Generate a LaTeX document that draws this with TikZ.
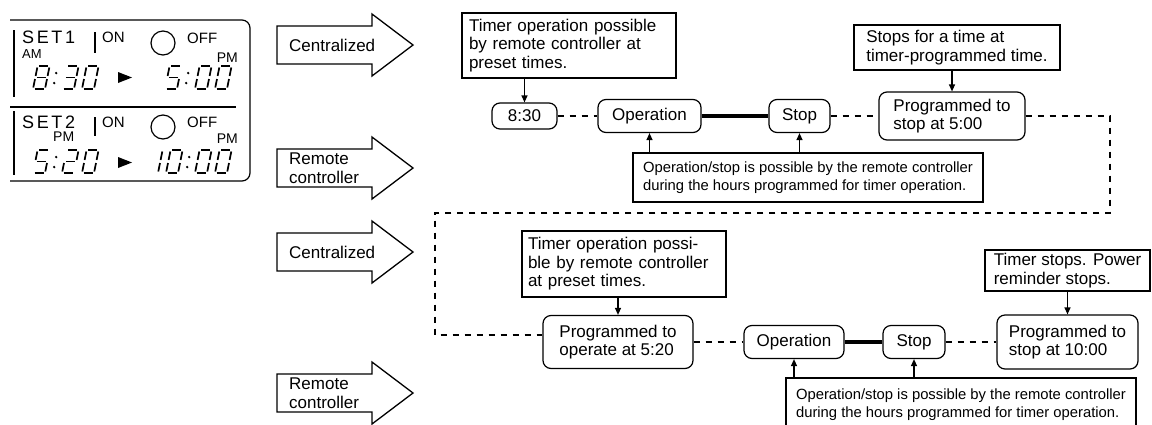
\documentclass[tikz,border=0pt]{standalone}
\usepackage{fontspec}
\setmainfont{Liberation Sans}
\usetikzlibrary{arrows.meta,calc}

\def\dZero{1.5/23/10.5/23,12/21.5/12/13,12/10/12/1.5,1.5/0/10.5/0,0/10/0/1.5,0/21.5/0/13}
\def\dOne{12/21.5/12/13,12/10/12/1.5}
\def\dTwo{1.5/23/10.5/23,12/21.5/12/13,1.5/11.5/10.5/11.5,0/10/0/1.5,1.5/0/10.5/0}
\def\dThree{1.5/23/10.5/23,12/21.5/12/13,1.5/11.5/10.5/11.5,12/10/12/1.5,1.5/0/10.5/0}
\def\dFive{1.5/23/10.5/23,0/21.5/0/13,1.5/11.5/10.5/11.5,12/10/12/1.5,1.5/0/10.5/0}
\def\dEight{1.5/23/10.5/23,12/21.5/12/13,12/10/12/1.5,1.5/0/10.5/0,0/10/0/1.5,0/21.5/0/13,1.5/11.5/10.5/11.5}

\newcommand{\lcddigit}[3]{%
  \foreach \ax/\ay/\bx/\by in #3 {\draw[lcdseg] ({#1+\ax+0.2*\ay},{#2-\ay}) -- ({#1+\bx+0.2*\by},{#2-\by});}}
\newcommand{\lcdcolon}[2]{%
  \fill ({#1+1.2},{#2-6}) circle (1.3); \fill ({#1+3.2},{#2-16}) circle (1.3);}
\newcommand{\blockarrow}[1]{%
  \draw[blk] (277,#1-19) -- (372,#1-19) -- (372,#1-31) -- (413,#1) -- (372,#1+31) -- (372,#1+19) -- (277,#1+19) -- cycle;}

\tikzset{
  base/.style={font=\fontsize{17}{18.5}\selectfont},
  rbox/.style={draw, line width=1.2pt, rounded corners=8pt, align=left, inner sep=0pt, base},
  sqbox/.style={draw, line width=1.2pt, align=left, inner sep=0pt, base},
  note/.style={sqbox, font=\fontsize{14.8}{18.5}\selectfont},
  dline/.style={line width=1.3pt, dash pattern=on 6pt off 6pt},
  heavy/.style={line width=4pt},
  arr/.style={line width=1.2pt, -{Triangle[length=7pt,width=6pt]}},
  blk/.style={draw, line width=1.3pt, line join=miter},
  lcdseg/.style={line width=1.7pt},
  lcdline/.style={line width=1.2pt},
  lbl/.style={inner sep=0pt, base, align=left, anchor=west},
}

\begin{document}
\begin{tikzpicture}[x=1pt,y=-1pt]
\fill[white] (0,0) rectangle (1152,424);
\useasboundingbox (0,0) rectangle (1152,424);

% ---------- LCD panel ----------
\draw[lcdline, rounded corners=8pt] (10,20) -- (250,20) -- (250,181) -- (10,181);
\draw[lcdline] (10,107) -- (236,107);
\draw[lcdline] (14,30) -- (14,97);
\draw[lcdline] (14,111) -- (14,175);
% row 1
\node[inner sep=0pt, anchor=base west, font=\fontsize{18}{18}\selectfont] (set1) at (22,43) {S\kern2.6pt E\kern2.6pt T\kern2.6pt 1};
\node[inner sep=0pt, anchor=base west, font=\fontsize{13}{13}\selectfont] (am1) at (22,58) {AM};
\draw[lcdline] (95,32) -- (95,53);
\node[inner sep=0pt, anchor=base west, font=\fontsize{15}{15}\selectfont] (on1) at (102,42) {ON};
\draw[lcdline] (163,43) circle (12);
\node[inner sep=0pt, anchor=base west, font=\fontsize{15}{15}\selectfont] (off1) at (187,43) {OFF};
\node[inner sep=0pt, anchor=base east, font=\fontsize{14}{14}\selectfont] (pm1) at (238,62) {PM};
\lcddigit{33}{89}{\dEight}
\lcdcolon{53}{89}
\lcddigit{62}{89}{\dThree}
\lcddigit{82}{89}{\dZero}
\fill (118,72) -- (132,77.5) -- (118,83) -- cycle;
\lcddigit{165}{89}{\dFive}
\lcdcolon{185}{89}
\lcddigit{195}{89}{\dZero}
\lcddigit{215}{89}{\dZero}
% row 2
\node[inner sep=0pt, anchor=base west, font=\fontsize{18}{18}\selectfont] (set2) at (22,128) {S\kern2.6pt E\kern2.6pt T\kern2.6pt 2};
\node[inner sep=0pt, anchor=base west, font=\fontsize{14}{14}\selectfont] (pm2) at (53,141) {PM};
\draw[lcdline] (95,117) -- (95,136);
\node[inner sep=0pt, anchor=base west, font=\fontsize{15}{15}\selectfont] (on2) at (102,127) {ON};
\draw[lcdline] (163,127) circle (12);
\node[inner sep=0pt, anchor=base west, font=\fontsize{15}{15}\selectfont] (off2) at (187,127) {OFF};
\node[inner sep=0pt, anchor=base east, font=\fontsize{14}{14}\selectfont] (pm3) at (238,143) {PM};
\lcddigit{33}{173}{\dFive}
\lcdcolon{53}{173}
\lcddigit{62}{173}{\dTwo}
\lcddigit{82}{173}{\dZero}
\fill (118,157) -- (132,162.5) -- (118,168) -- cycle;
\lcddigit{146}{173}{\dOne}
\lcddigit{166}{173}{\dZero}
\lcdcolon{186}{173}
\lcddigit{195}{173}{\dZero}
\lcddigit{215}{173}{\dZero}

% ---------- block arrows ----------
\blockarrow{45}
\node[lbl] (cen1) at (289,45) {Centralized};
\blockarrow{168}
\node[lbl] (rem1) at (289,168) {Remote\\controller};
\blockarrow{252}
\node[lbl] (cen2) at (289,252) {Centralized};
\blockarrow{393}
\node[lbl] (rem2) at (289,393) {Remote\\controller};

% ---------- row 1 ----------
\node[sqbox, minimum width=214, minimum height=65, text width=200] (t1) at (569,45.5) {Timer operation possible\\by remote controller at\\preset times.};
\node[rbox, minimum width=65, minimum height=26] (c830) at (524.5,116) {8:30};
\node[rbox, minimum width=103, minimum height=33] (op1) at (649.5,116) {Operation};
\node[rbox, minimum width=61, minimum height=33] (st1) at (799.5,116) {Stop};
\node[rbox, minimum width=146, minimum height=48] (pr1) at (952,116) {Programmed to\\stop at 5:00};
\node[sqbox, minimum width=206, minimum height=45] (stp) at (957,47.5) {Stops for a time at\\timer-programmed time.};
\node[note, minimum width=350, minimum height=49] (os1) at (808,177.5) {Operation/stop is possible by the remote controller\\during the hours programmed for timer operation.};

\draw[arr] (c830.north |- t1.south) -- (c830.north);
\draw[arr] (pr1.north |- stp.south) -- (pr1.north);
\draw[arr] (op1.south |- os1.north) -- (op1.south);
\draw[arr] (st1.south |- os1.north) -- (st1.south);
\draw[dline] (c830.east) -- (op1.west);
\draw[heavy] (op1.east) -- (st1.west);
\draw[dline] (st1.east) -- (pr1.west);

% ---------- loop ----------
\coordinate (r1) at (1110,116);
\coordinate (r2) at (1110,213);
\coordinate (l1) at (435,213);
\coordinate (l2) at (435,335);

% ---------- row 2 ----------
\node[sqbox, minimum width=204, minimum height=66, text width=192] (t2) at (624,264) {Timer operation possi-\\ble by remote controller\\at preset times.};
\node[rbox, minimum width=150, minimum height=53] (pr2) at (618,342) {Programmed to\\operate at 5:20};
\node[rbox, minimum width=100, minimum height=33] (op2) at (794,342) {Operation};
\node[rbox, minimum width=62, minimum height=33] (st2) at (914,342) {Stop};
\node[rbox, minimum width=141, minimum height=54] (pr3) at (1067.5,342) {Programmed to\\stop at 10:00};
\node[sqbox, minimum width=165, minimum height=41] (tst) at (1067.5,270.5) {Timer stops. Power\\reminder stops.};
\node[note, minimum width=350, minimum height=50, text depth=0pt] (os2) at (961,403) {Operation/stop is possible by the remote controller\\during the hours programmed for timer operation.};

\draw[dline] (pr1.east) -- (r1) -- (r2) -- (l1) -- (l2) -- (pr2.west |- l2);
\draw[arr] (pr2.north |- t2.south) -- (pr2.north);
\draw[arr] (pr3.north |- tst.south) -- (pr3.north);
\draw[arr] (op2.south |- os2.north) -- (op2.south);
\draw[arr] (st2.south |- os2.north) -- (st2.south);
\draw[dline] (pr2.east) -- (op2.west);
\draw[heavy] (op2.east) -- (st2.west);
\draw[dline] (st2.east) -- (pr3.west);
\end{tikzpicture}
\end{document}
